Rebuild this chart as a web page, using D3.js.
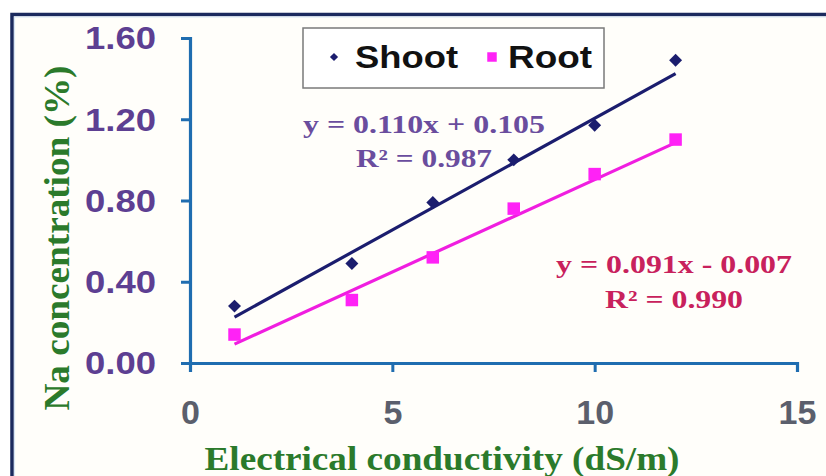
<!DOCTYPE html>
<html>
<head>
<meta charset="utf-8">
<script src="https://cdn.jsdelivr.net/npm/d3@7"></script>
<style>
  html, body { margin: 0; padding: 0; background: #ffffff; }
  svg { display: block; }
</style>
</head>
<body>
<svg id="chart" width="826" height="476"></svg>
<script>
// Electrical conductivity levels (dS/m) and measured Na concentration (%)
const ecLevels = [1.1, 4, 6, 8, 10, 12];
const shootNa = [0.28, 0.49, 0.79, 1.00, 1.17, 1.49];
const rootNa = [0.14, 0.31, 0.52, 0.76, 0.93, 1.10];

// Linear fits: shoot, root
const seriesNames = ["Shoot", "Root"];
const fitSlopes = [0.110, 0.091];
const fitIntercepts = [0.105, -0.007];
const fitR2 = [0.987, 0.990];

// Axis ticks
const xTicks = [0, 5, 10, 15];
const yTicks = [0.00, 0.40, 0.80, 1.20, 1.60];

const svg = d3.select("#chart");
const W = 826, H = 476;

// Frame and background
svg.append("rect").attr("x", 12).attr("y", 15).attr("width", W).attr("height", H)
  .attr("fill", "#fffefa");
svg.append("path")
  .attr("d", `M12,${H} L12,14.5 L${W},14.5`)
  .attr("fill", "none").attr("stroke", "#1b2a5e").attr("stroke-width", 3.5);
svg.append("path")
  .attr("d", `M14.5,${H} L14.5,17 L${W},17`)
  .attr("fill", "none").attr("stroke", "#d8e6f6").attr("stroke-width", 1.2);

const x = d3.scaleLinear().domain([0, 15]).range([190, 797]);
const y = d3.scaleLinear().domain([0, 1.6]).range([363, 38]);

const axisColor = "#1f6db0";

// Y axis
const gy = svg.append("g").attr("transform", `translate(${x(0)},0)`)
  .call(d3.axisLeft(y).tickValues(yTicks).tickFormat(d3.format(".2f"))
    .tickSize(9).tickPadding(25));
gy.select(".domain").attr("stroke", axisColor).attr("stroke-width", 3.2);
gy.selectAll(".tick line").attr("stroke", axisColor).attr("stroke-width", 3);
gy.selectAll(".tick text")
  .attr("fill", "#5d3f92")
  .attr("font-family", "'Liberation Sans', Arial, sans-serif")
  .attr("font-weight", "bold")
  .attr("font-size", 31)
  .attr("textLength", 71)
  .attr("lengthAdjust", "spacingAndGlyphs")
  .attr("dy", "0.35em");

// X axis
const gx = svg.append("g").attr("transform", `translate(0,${y(0)})`)
  .call(d3.axisBottom(x).tickValues(xTicks).tickFormat(d3.format("d"))
    .tickSize(9).tickPadding(28));
gx.select(".domain").attr("stroke", axisColor).attr("stroke-width", 3.2);
gx.selectAll(".tick line").attr("stroke", axisColor).attr("stroke-width", 3);
gx.selectAll(".tick text")
  .attr("fill", "#5b5f6c")
  .attr("font-family", "'Liberation Sans', Arial, sans-serif")
  .attr("font-weight", "bold")
  .attr("font-size", 34);

// Axis titles
svg.append("text")
  .attr("x", 442).attr("y", 470)
  .attr("text-anchor", "middle")
  .attr("fill", "#2b7a2b")
  .attr("font-family", "'Liberation Serif', 'Times New Roman', serif")
  .attr("font-weight", "bold")
  .attr("font-size", 34)
  .attr("textLength", 475).attr("lengthAdjust", "spacingAndGlyphs")
  .text("Electrical conductivity (dS/m)");

svg.append("text")
  .attr("transform", "translate(69,238) rotate(-90)")
  .attr("text-anchor", "middle")
  .attr("fill", "#2b7a2b")
  .attr("font-family", "'Liberation Serif', 'Times New Roman', serif")
  .attr("font-weight", "bold")
  .attr("font-size", 36)
  .attr("textLength", 345).attr("lengthAdjust", "spacingAndGlyphs")
  .text("Na concentration (%)");

const shootColor = "#1b1d6e";
const rootLine = "#f01ee0";
const rootMark = "#ff22f6";

// Trend lines from the fitted equations
const xFit = d3.extent(ecLevels);
const line = d3.line().x(d => x(d[0])).y(d => y(d[1]));
[[0, shootColor], [1, rootLine]].forEach(([i, c]) => {
  svg.append("path")
    .datum(xFit.map(v => [v, fitSlopes[i] * v + fitIntercepts[i]]))
    .attr("d", line)
    .attr("fill", "none").attr("stroke", c).attr("stroke-width", 3.2);
});

// Markers
const diamond = d3.symbol().type(d3.symbolSquare).size(84);
const square = d3.symbol().type(d3.symbolSquare).size(156);

svg.append("g").selectAll("path")
  .data(ecLevels.map((v, i) => [v, shootNa[i]]))
  .join("path")
  .attr("d", diamond)
  .attr("transform", d => `translate(${x(d[0])},${y(d[1])}) rotate(45)`)
  .attr("fill", shootColor);

svg.append("g").selectAll("path")
  .data(ecLevels.map((v, i) => [v, rootNa[i]]))
  .join("path")
  .attr("d", square)
  .attr("transform", d => `translate(${x(d[0])},${y(d[1])})`)
  .attr("fill", rootMark);

// Equation labels
const f3 = d3.format(".3f");
function eqText(i) {
  const b = fitIntercepts[i];
  return `y = ${f3(fitSlopes[i])}x ${b < 0 ? "-" : "+"} ${f3(Math.abs(b))}`;
}
const eqFont = "'Liberation Serif', 'Times New Roman', serif";
const eqSpecs = [
  { i: 0, cx: 424, y1: 133, y2: 167, w1: 242, w2: 136, color: "#6a4d9e" },
  { i: 1, cx: 674, y1: 273, y2: 308, w1: 236, w2: 138, color: "#c8215c" }
];
eqSpecs.forEach(s => {
  svg.append("text")
    .attr("x", s.cx).attr("y", s.y1).attr("text-anchor", "middle")
    .attr("fill", s.color).attr("font-family", eqFont)
    .attr("font-weight", "bold").attr("font-size", 25)
    .attr("textLength", s.w1).attr("lengthAdjust", "spacingAndGlyphs")
    .text(eqText(s.i));
  svg.append("text")
    .attr("x", s.cx).attr("y", s.y2).attr("text-anchor", "middle")
    .attr("fill", s.color).attr("font-family", eqFont)
    .attr("font-weight", "bold").attr("font-size", 25)
    .attr("textLength", s.w2).attr("lengthAdjust", "spacingAndGlyphs")
    .text(`R² = ${f3(fitR2[s.i])}`);
});

// Legend
const lg = svg.append("g");
lg.append("rect")
  .attr("x", 303).attr("y", 28).attr("width", 301).attr("height", 60)
  .attr("fill", "#ffffff").attr("stroke", "#7a7a7a").attr("stroke-width", 1.5);
lg.append("path")
  .attr("d", d3.symbol().type(d3.symbolSquare).size(34))
  .attr("transform", "translate(334,57) rotate(45)")
  .attr("fill", shootColor);
lg.append("path")
  .attr("d", d3.symbol().type(d3.symbolSquare).size(90))
  .attr("transform", "translate(492,57)")
  .attr("fill", rootMark);
const legendText = [
  { t: seriesNames[0], x: 355, w: 103 },
  { t: seriesNames[1], x: 508, w: 84 }
];
legendText.forEach(d => {
  lg.append("text")
    .attr("x", d.x).attr("y", 68)
    .attr("fill", "#111111")
    .attr("font-family", "'Liberation Sans', Arial, sans-serif")
    .attr("font-weight", "bold")
    .attr("font-size", 32)
    .attr("textLength", d.w).attr("lengthAdjust", "spacingAndGlyphs")
    .text(d.t);
});
</script>
</body>
</html>
